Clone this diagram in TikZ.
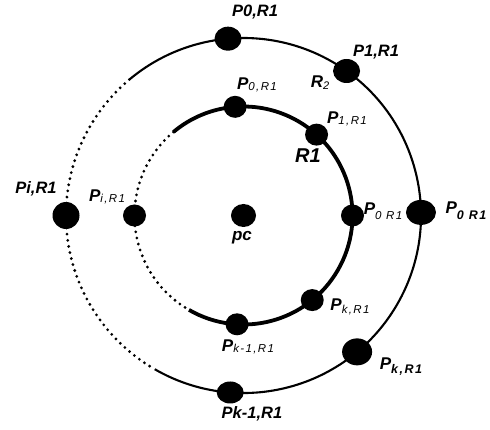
\documentclass[tikz,border=0pt]{standalone}
\usepackage{fontspec}
\setmainfont{Liberation Sans}
\usetikzlibrary{shapes.geometric}

% font helpers (sizes in pt)
\newcommand\fs[1]{\fontsize{#1}{#1}\selectfont}
% point label: bold italic letter, lowered italic index
\newcommand\plab[4]{{\fs{17}\bfseries\itshape #1}\raisebox{-#3}{\fs{11.5}#4\itshape\addfontfeature{LetterSpace=12}#2}}

\begin{document}
\begin{tikzpicture}[x=1pt,y=1pt,
  odot/.style={ellipse,fill=black,inner sep=0pt,minimum width=27pt,minimum height=24pt},
  idot/.style={ellipse,fill=black,inner sep=0pt,minimum width=23pt,minimum height=22pt},
  lab/.style={inner sep=0pt,anchor=center},
  big/.style={lab,font=\fs{16.5}\bfseries\itshape},
  dotline/.style={line width=3.1pt,line cap=round,dash pattern=on 0pt off 6.2pt}]
\useasboundingbox (0,-430) rectangle (490,0);
\coordinate (c) at (243.5,-215.5);

% outer orbit R2: solid part and dotted part
\draw[line width=2.1pt] ([shift={(-120:177.5)}]c) arc[start angle=-120,end angle=130,radius=177.5];
\draw[dotline] ([shift={(130:177.5)}]c) arc[start angle=130,end angle=240,radius=177.5];
% inner orbit R1
\draw[line width=3.8pt] ([shift={(-120:109)}]c) arc[start angle=-120,end angle=130,radius=109];
\draw[dotline] ([shift={(130:109)}]c) arc[start angle=130,end angle=240,radius=109];

% centre point
\node[idot,minimum width=25pt,minimum height=23pt] (pc) at (c) {};

% points on the outer orbit
\node[odot] (o0) at ([shift={(95:177.5)}]c) {};
\node[odot] (o1) at ([shift={(54.5:177.5)}]c) {};
\node[odot,minimum width=30pt,minimum height=25pt] (or) at ([shift={(1:177.5)}]c) {};
\node[odot,minimum width=30pt,minimum height=27pt] (ok) at ([shift={(-50.2:177.5)}]c) {};
\node[odot,minimum height=22pt] (okm) at ([shift={(-94.3:177.5)}]c) {};
\node[odot,minimum height=27pt] (oi) at ([shift={(180:177.5)}]c) {};

% points on the inner orbit
\node[idot] (i0) at ([shift={(94.4:109)}]c) {};
\node[idot] (i1) at ([shift={(47.9:109)}]c) {};
\node[idot] (ir) at ([shift={(0:109)}]c) {};
\node[idot] (ik) at ([shift={(-50.9:109)}]c) {};
\node[idot] (ikm) at ([shift={(-93.4:109)}]c) {};
\node[idot] (ii) at ([shift={(180:109)}]c) {};

% labels of the outer orbit
\node[big] (lo0) at (255,-12) {P0,R1};
\node[big] (lo1) at (376,-52) {P1,R1};
\node[lab] (lor) at (466,-211) {\plab{P}{0 R1}{6pt}{\bfseries\fs{12.5}}};
\node[lab] (lok) at (401,-367) {\plab{P}{k,R1}{4pt}{\bfseries\fs{12.5}}};
\node[big] (lokm) at (252,-414) {Pk-1,R1};
\node[big] (loi) at (36,-189) {Pi,R1};
\node[lab] (lr2) at (320,-83) {{\fs{17}\bfseries\itshape R}\raisebox{-2pt}{\fs{11}\itshape 2}};

% labels of the inner orbit
\node[lab] (li0) at (257,-85) {\plab{P}{0,R1}{0.5pt}{}};
\node[lab] (li1) at (347,-119) {\plab{P}{1,R1}{1pt}{}};
\node[lab] (lir) at (383,-211) {\plab{P}{0 R1}{5pt}{}};
\node[lab] (lik) at (350,-307) {\plab{P}{k,R1}{3pt}{}};
\node[lab] (likm) at (248,-347) {\plab{P}{k-1,R1}{1pt}{}};
\node[lab] (lii) at (107,-197) {\plab{P}{i,R1}{1pt}{}};
\node[lab,font=\fs{20}\bfseries\itshape] (lr1) at (308,-156) {R1};
\node[lab,font=\fs{17}\bfseries\itshape] (lpc) at (242,-238) {pc};
\end{tikzpicture}
\end{document}
